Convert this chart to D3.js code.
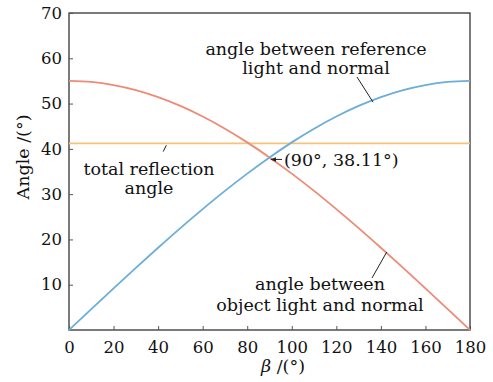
<!DOCTYPE html>
<html>
<head>
<meta charset="utf-8">
<script src="https://cdn.jsdelivr.net/npm/d3@7"></script>
<style>
  body { margin: 0; background: #fff; }
  svg text { font-family: "DejaVu Serif", "Liberation Serif", serif; fill: #111; }
</style>
</head>
<body>
<svg width="493" height="382"></svg>
<script>
// beta values (deg) and the two angle curves
var beta = [0, 10, 20, 30, 40, 50, 60, 70, 80, 90, 100, 110, 120, 130, 140, 150, 160, 170, 180];
var refAngle = [0, 4.61, 9.20, 13.73, 18.17, 22.51, 26.69, 30.72, 34.53, 38.11, 41.43, 44.45, 47.14, 49.48, 51.43, 52.98, 54.09, 54.77, 55.0];
var objAngle = [55.0, 54.77, 54.09, 52.98, 51.43, 49.48, 47.14, 44.45, 41.43, 38.11, 34.53, 30.72, 26.69, 22.51, 18.17, 13.73, 9.20, 4.61, 0];
var totalReflection = 41.2;
var xTicks = [0, 20, 40, 60, 80, 100, 120, 140, 160, 180];
var yTicks = [10, 20, 30, 40, 50, 60, 70];

var svg = d3.select("svg"),
    margin = {top: 13, right: 23, bottom: 52, left: 69},
    width = +svg.attr("width") - margin.left - margin.right,
    height = +svg.attr("height") - margin.top - margin.bottom;

var x = d3.scaleLinear().domain([0, 180]).range([0, width]);
var y = d3.scaleLinear().domain([0, 70]).range([height, 0]);

var g = svg.append("g").attr("transform", "translate(" + margin.left + "," + margin.top + ")");

// box
g.append("rect")
    .attr("width", width)
    .attr("height", height)
    .attr("fill", "none")
    .attr("stroke", "#333")
    .attr("stroke-width", 1.3);

var xAxis = g.append("g")
    .attr("transform", "translate(0," + height + ")")
    .call(d3.axisBottom(x).tickValues(xTicks).tickSize(-4).tickPadding(11));

var yAxis = g.append("g")
    .call(d3.axisLeft(y).tickValues(yTicks).tickSize(-4).tickPadding(7));

[xAxis, yAxis].forEach(function(a) {
  a.select(".domain").remove();
  a.selectAll(".tick line").attr("stroke", "#555");
  a.selectAll(".tick text").style("font-size", "16.5px").attr("fill", "#111");
});

var line = d3.line()
    .x(function(d) { return x(d[0]); })
    .y(function(d) { return y(d[1]); })
    .curve(d3.curveMonotoneX);

g.append("line")
    .attr("x1", 0).attr("x2", width)
    .attr("y1", y(totalReflection)).attr("y2", y(totalReflection))
    .attr("stroke", "#f5c47c")
    .attr("stroke-width", 1.8);

g.append("path")
    .datum(d3.zip(beta, objAngle))
    .attr("fill", "none")
    .attr("stroke", "#ee8b77")
    .attr("stroke-width", 1.8)
    .attr("d", line);

g.append("path")
    .datum(d3.zip(beta, refAngle))
    .attr("fill", "none")
    .attr("stroke", "#6caed8")
    .attr("stroke-width", 1.8)
    .attr("d", line);

// annotations
var fs = "17.5px";
function label(lines, cx, y0, dy) {
  lines.forEach(function(t, i) {
    g.append("text")
        .attr("x", cx).attr("y", y0 + i * dy)
        .attr("text-anchor", "middle")
        .style("font-size", fs)
        .text(t);
  });
}
function leader(b1, a1, x2, y2) {
  g.append("line")
      .attr("x1", x(b1)).attr("y1", y(a1))
      .attr("x2", x2).attr("y2", y2)
      .attr("stroke", "#222").attr("stroke-width", 1);
}

label(["angle between reference", "light and normal"], 316 - margin.left, 55 - margin.top, 19);
leader(136.5, 50.3, 357 - margin.left, 77 - margin.top);

label(["total reflection", "angle"], 149 - margin.left, 175 - margin.top, 19);
g.append("line")
    .attr("x1", x(43.7)).attr("y1", y(40.8))
    .attr("x2", x(42.3)).attr("y2", y(39.4))
    .attr("stroke", "#222").attr("stroke-width", 1);

label(["angle between", "object light and normal"], 320 - margin.left, 290 - margin.top, 21);
leader(142.6, 17.2, 372 - margin.left, 278 - margin.top);

// intersection marker
svg.append("defs").append("marker")
    .attr("id", "arr")
    .attr("viewBox", "0 0 10 10")
    .attr("refX", 9).attr("refY", 5)
    .attr("markerWidth", 6).attr("markerHeight", 6)
    .attr("orient", "auto")
  .append("path")
    .attr("d", "M0,1L10,5L0,9z")
    .attr("fill", "#222");

g.append("line")
    .attr("x1", 282 - margin.left).attr("y1", y(38.11) + 2)
    .attr("x2", x(90) + 1.5).attr("y2", y(38.11) + 2)
    .attr("stroke", "#222").attr("stroke-width", 1)
    .attr("marker-end", "url(#arr)");

g.append("text")
    .attr("x", 284 - margin.left).attr("y", 166 - margin.top)
    .style("font-size", fs)
    .text("(90°, 38.11°)");

// axis titles
var xt = svg.append("text")
    .attr("x", 283).attr("y", 372)
    .attr("text-anchor", "middle")
    .style("font-size", fs);
xt.append("tspan").style("font-style", "italic").text("β");
xt.append("tspan").text(" /(°)");

svg.append("text")
    .attr("transform", "translate(29,157) rotate(-90)")
    .attr("text-anchor", "middle")
    .style("font-size", fs)
    .text("Angle /(°)");
</script>
</body>
</html>
